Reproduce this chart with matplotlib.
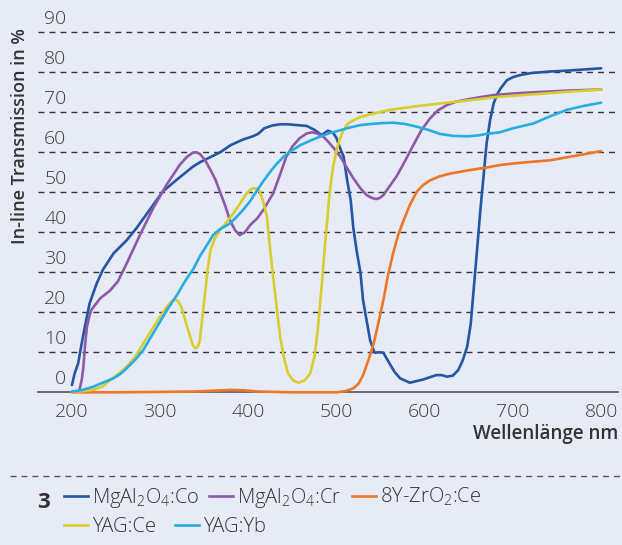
import matplotlib
matplotlib.use("Agg")
import matplotlib.pyplot as plt
from matplotlib.lines import Line2D
from matplotlib.transforms import ScaledTranslation

# ---------------- data ----------------
co_x = [200, 203, 207, 211, 215, 220, 228, 235, 247, 262, 273, 288, 303, 318, 337, 345, 368, 380, 394, 405, 411,
        418, 427, 436, 445, 455, 466, 475, 483, 490, 496, 500, 504, 508, 512, 516, 519, 523, 527, 530, 534, 538,
        543, 548, 553, 560, 566, 572, 583, 598, 613, 619, 625, 632, 638, 643, 648, 652, 655, 659, 663, 667, 670,
        674, 678, 682, 686, 693, 700, 708, 720, 742, 760, 780, 800]
co_y = [1.8, 4.7, 7.2, 12.2, 16.8, 22.2, 27.2, 30.6, 34.7, 38.0, 41.0, 45.6, 50.2, 53.0, 56.4, 57.5, 60.0, 61.8,
        63.2, 64.0, 64.6, 66.0, 66.7, 67.0, 67.0, 66.8, 66.6, 65.6, 64.3, 65.4, 64.9, 63.5, 61.0, 58.9, 53.0,
        48.0, 41.0, 35.0, 30.0, 23.0, 18.0, 13.0, 9.9, 10.0, 9.9, 7.2, 5.0, 3.5, 2.4, 3.2, 4.3, 4.3, 3.9, 4.2,
        5.6, 8.0, 11.4, 17.0, 24.7, 35.0, 45.6, 55.0, 62.2, 68.0, 72.2, 74.5, 76.0, 78.0, 78.8, 79.3, 79.8, 80.2,
        80.4, 80.7, 81.0]

cr_x = [208, 211, 213, 215, 217, 220, 222, 232, 243, 252, 262, 277, 292, 307, 322, 330, 337, 341, 345, 351, 357,
        363, 368, 374, 379, 385, 390, 396, 402, 410, 417, 428, 436, 443, 450, 458, 466, 472, 478, 485, 489, 497,
        504, 512, 519, 527, 534, 540, 545, 549, 553, 560, 568, 578, 587, 596, 606, 615, 625, 636, 648, 663, 678,
        700, 723, 760, 800]
cr_y = [0.2, 3.0, 6.4, 12.2, 16.4, 19.3, 20.6, 23.5, 25.4, 27.7, 32.2, 39.3, 46.0, 51.8, 56.8, 58.8, 59.9, 60.0,
        59.6, 58.0, 55.6, 53.0, 50.0, 46.5, 43.0, 40.5, 39.3, 40.0, 41.8, 43.5, 45.6, 49.7, 54.5, 58.9, 61.5,
        63.5, 64.7, 65.0, 64.7, 63.9, 63.0, 61.0, 59.0, 56.0, 53.5, 51.0, 49.3, 48.6, 48.3, 48.6, 49.3, 51.5,
        54.0, 58.0, 61.8, 65.5, 68.5, 70.5, 71.8, 72.7, 73.2, 73.8, 74.3, 74.7, 75.0, 75.4, 75.7]

zr_x = [200, 250, 300, 340, 360, 380, 395, 410, 450, 500, 510, 519, 525, 530, 536, 542, 547, 553, 558, 564, 570,
        576, 583, 591, 598, 606, 617, 629, 642, 655, 670, 685, 700, 720, 742, 770, 800]
zr_y = [0.0, 0.0, 0.1, 0.2, 0.4, 0.6, 0.5, 0.2, 0.0, 0.0, 0.3, 1.0, 2.2, 4.3, 8.0, 12.2, 17.0, 23.0, 29.0, 34.7,
        39.5, 43.0, 46.8, 50.2, 51.8, 53.0, 54.0, 54.7, 55.2, 55.7, 56.2, 56.8, 57.2, 57.6, 58.0, 59.1, 60.3]

yce_x = [200, 212, 224, 235, 243, 252, 262, 272, 281, 290, 300, 308, 313, 317, 320, 324, 329, 334, 337, 340, 343,
         345, 348, 351, 354, 357, 362, 368, 375, 383, 390, 398, 403, 406, 410, 413, 417, 421, 424, 428, 432, 436,
         440, 445, 451, 457, 464, 470, 475, 479, 483, 487, 492, 496, 500, 504, 508, 513, 519, 527, 540, 560, 590,
         617, 650, 685, 723, 760, 800]
yce_y = [0.2, 0.3, 0.6, 1.5, 3.0, 4.5, 6.4, 9.0, 12.2, 15.5, 18.9, 21.5, 22.8, 23.2, 22.8, 21.4, 17.5, 13.9, 11.8,
         11.0, 11.5, 13.0, 19.0, 25.0, 31.0, 35.6, 38.5, 40.6, 42.5, 44.7, 47.0, 49.7, 50.8, 51.0, 50.9, 50.2,
         47.5, 43.9, 37.2, 29.0, 21.4, 13.9, 8.9, 4.7, 2.9, 2.4, 3.0, 4.7, 8.9, 16.4, 26.4, 37.2, 49.7, 56.4,
         60.6, 63.5, 65.6, 67.2, 68.0, 68.8, 69.6, 70.6, 71.5, 72.2, 73.0, 73.9, 74.5, 75.1, 75.7]

yyb_x = [200, 212, 224, 235, 247, 255, 262, 272, 281, 290, 300, 309, 319, 328, 338, 345, 353, 360, 368, 379, 386,
         394, 402, 409, 417, 425, 432, 440, 449, 459, 470, 481, 492, 504, 515, 527, 540, 552, 564, 577, 591, 604,
         617, 632, 648, 660, 670, 685, 700, 723, 742, 761, 780, 800]
yyb_y = [0.2, 0.6, 1.4, 2.4, 3.5, 4.6, 6.0, 8.2, 10.6, 14.0, 17.7, 21.0, 24.3, 27.7, 31.0, 34.0, 36.8, 39.3, 40.8,
         42.2, 43.7, 45.6, 47.8, 50.2, 52.8, 55.2, 57.1, 58.9, 60.4, 61.8, 62.9, 63.9, 64.8, 65.5, 66.2, 66.8,
         67.1, 67.3, 67.4, 67.1, 66.4, 65.6, 64.6, 64.1, 64.0, 64.2, 64.6, 65.0, 66.0, 67.2, 69.0, 70.6, 71.6,
         72.4]

series_labels = [r"MgAl$_2$O$_4$:Co", r"MgAl$_2$O$_4$:Cr", r"8Y-ZrO$_2$:Ce", "YAG:Ce", "YAG:Yb"]
series_colors = ["#2356a3", "#8c5aa6", "#ee7627", "#d9cc2f", "#27ade3"]

y_ticks = [0, 10, 20, 30, 40, 50, 60, 70, 80, 90]
x_ticks = [200, 300, 400, 500, 600, 700, 800]

# ---------------- style ----------------
plt.rcParams["font.family"] = ["Open Sans", "DejaVu Sans"]
plt.rcParams["mathtext.fontset"] = "custom"
plt.rcParams["mathtext.rm"] = "Open Sans:light"
plt.rcParams["mathtext.it"] = "Open Sans:light"
plt.rcParams["mathtext.default"] = "regular"

BG = "#e7ebf6"
TXT = "#3a3a3a"

W, H = 622, 545
fig = plt.figure(figsize=(W / 100, H / 100), dpi=100, facecolor=BG)
ax = fig.add_axes([38 / W, 1 - 392.3 / H, (618 - 38) / W, (392.3 - 32.3) / H], facecolor=BG)

ax.set_xlim(161.5, 819)
ax.set_ylim(0, 90)

for s in ["top", "right", "left"]:
    ax.spines[s].set_visible(False)
ax.spines["bottom"].set_color("#555555")
ax.spines["bottom"].set_linewidth(1.2)

ax.set_yticks(y_ticks)
ax.set_yticklabels([str(v) for v in y_ticks])
ax.tick_params(axis="y", length=0, pad=-20.5, labelsize=14, labelcolor=TXT)
for lab in ax.get_yticklabels():
    lab.set_transform(lab.get_transform() + ScaledTranslation(0, 12.8 / 100, fig.dpi_scale_trans))
    lab.set_verticalalignment("center")
    lab.set_fontweight("light")

ax.set_xticks(x_ticks)
ax.set_xticklabels([str(v) for v in x_ticks])
ax.tick_params(axis="x", length=0, pad=8, labelsize=14, labelcolor=TXT)
for lab in ax.get_xticklabels():
    lab.set_fontweight("light")

for v in y_ticks[1:]:
    ax.axhline(v, color="#333333", lw=1.0, ls=(0, (4.3, 3.6)), zorder=1, clip_on=False)

data = [(co_x, co_y), (cr_x, cr_y), (zr_x, zr_y), (yce_x, yce_y), (yyb_x, yyb_y)]
order = [1, 0, 2, 3, 4]
for i in order:
    xs, ys = data[i]
    ax.plot(xs, ys, color=series_colors[i], lw=1.9, solid_capstyle="round",
            solid_joinstyle="round", clip_on=False, zorder=3 + i)

# axis labels
fig.text(20 / W, 1 - 136 / H, "In-line Transmission in %", rotation=90, ha="center", va="center",
         fontsize=13, fontweight="semibold", color="#333333")
fig.text(618 / W, 1 - 434 / H, "Wellenlänge nm", ha="right", va="center",
         fontsize=13.5, fontweight="semibold", color="#333333")

# separator
fig.add_artist(Line2D([10 / W, 1.0], [1 - 476 / H, 1 - 476 / H], transform=fig.transFigure,
                      color="#555555", lw=1.0, ls=(0, (4.3, 3.6))))

# figure number
fig.text(43 / W, 1 - 502 / H, "3", ha="center", va="center", fontsize=16, fontweight="bold", color="#333333")

# legend rows
def make_handles(idx):
    return [Line2D([0], [0], color=series_colors[i], lw=1.9) for i in idx]

row1 = [0, 1, 2]
row2 = [3, 4]
leg_kw = dict(frameon=False, handlelength=1.2, handletextpad=0.2,
              borderpad=0, borderaxespad=0, labelcolor="#333333",
              prop={"family": "Open Sans", "weight": "light", "size": 14.5})
leg1 = fig.legend(make_handles(row1), [series_labels[i] for i in row1], loc="center left",
                  bbox_to_anchor=(63.5 / W, 1 - 498 / H), ncol=3, columnspacing=0.5, **leg_kw)
leg2 = fig.legend(make_handles(row2), [series_labels[i] for i in row2], loc="center left",
                  bbox_to_anchor=(63.5 / W, 1 - 527 / H), ncol=2, columnspacing=0.95, **leg_kw)

fig.savefig("out.png", dpi=100, facecolor=BG)
